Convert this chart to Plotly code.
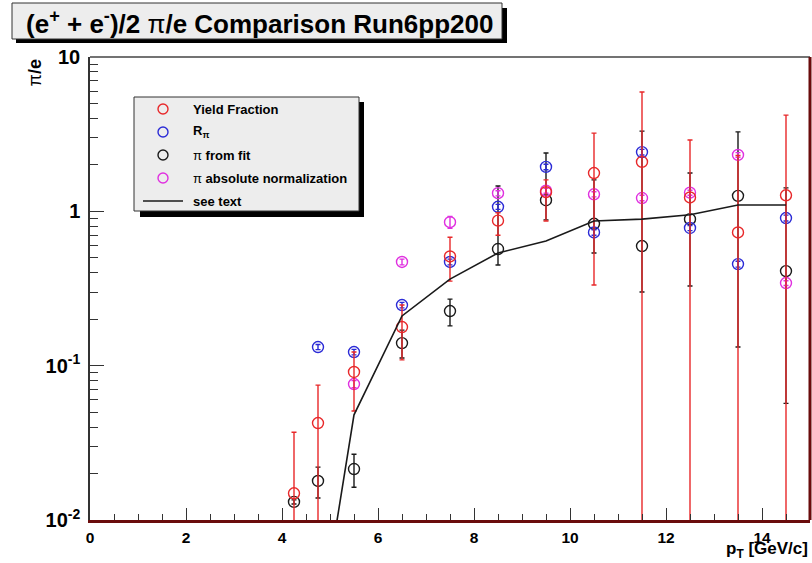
"""pi/e comparison for Run6 pp200, ROOT-style log plot."""

import plotly.graph_objects as go

# ---- data ----
pt = [4.25, 4.75, 5.5, 6.5, 7.5, 8.5, 9.5, 10.5, 11.5, 12.5, 13.5, 14.5]

# Yield Fraction (red); low of 0 means the bar runs off the bottom of the axis
yield_frac = [0.0149, 0.0425, 0.091, 0.178, 0.51, 0.87, 1.33, 1.77, 2.09, 1.23, 0.73, 1.27]
yield_hi = [0.037, 0.0748, 0.1225, 0.247, 0.68, 0.98, 1.6, 3.21, 5.93, 2.9, 2.3, 4.2]
yield_lo = [0.0, 0.0, 0.0508, 0.109, 0.353, 0.70, 0.865, 0.333, 0.0, 0.0, 0.0, 0.0]

# R_pi (blue)
pt_rpi = [4.75, 5.5, 6.5, 7.5, 8.5, 9.5, 10.5, 11.5, 12.5, 13.5, 14.5]
rpi = [0.132, 0.1225, 0.247, 0.47, 1.07, 1.94, 0.73, 2.42, 0.78, 0.455, 0.905]
rpi_err = [0.005, 0.005, 0.01, 0.02, 0.04, 0.08, 0.03, 0.1, 0.03, 0.02, 0.04]

# pi from fit (black)
fit = [0.0131, 0.0179, 0.0214, 0.140, 0.226, 0.57, 1.18, 0.83, 0.596, 0.89, 1.26, 0.41]
fit_hi = [0.0135, 0.0220, 0.0267, 0.17, 0.270, 1.46, 2.39, 1.6, 3.31, 1.77, 3.27, 1.42]
fit_lo = [0.0127, 0.0139, 0.0163, 0.112, 0.181, 0.449, 0.88, 0.537, 0.30, 0.328, 0.132, 0.057]

# pi absolute normalization (magenta)
pt_abs = [5.5, 6.5, 7.5, 8.5, 9.5, 10.5, 11.5, 12.5, 13.5, 14.5]
absnorm = [0.076, 0.47, 0.85, 1.31, 1.36, 1.29, 1.22, 1.32, 2.32, 0.343]
absnorm_err = [0.004, 0.02, 0.075, 0.05, 0.05, 0.05, 0.05, 0.05, 0.08, 0.012]

# "see text" curve (black line)
pt_line = [4.75, 5.5, 6.5, 7.5, 8.5, 9.5, 10.5, 11.5, 12.5, 13.5, 14.5]
line_vals = [0.0017, 0.048, 0.21, 0.364, 0.537, 0.643, 0.865, 0.89, 0.95, 1.10, 1.10]

RED = "#e8282a"
BLUE = "#2b2bd6"
MAGENTA = "#e030e0"
BLACK = "#1a1a1a"
FRAME_RED = "#6a0c0c"
FLOOR = 1e-3  # off-axis lower end for bars that run past the bottom
FONT = "Liberation Sans, Arial"

# plot area in pixels
W, H = 812, 563
L, R, T, B = 90, 810, 57, 520


def px(x):
    return (x - L) / (R - L)


def py(y):
    return (B - y) / (B - T)


def err_up(vals, hi):
    return [h - v for v, h in zip(vals, hi)]


def err_down(vals, lo):
    return [v - max(lo_, FLOOR) for v, lo_ in zip(vals, lo)]


fig = go.Figure()


def add_series(x, y, up, down, color):
    fig.add_trace(
        go.Scatter(
            x=x,
            y=y,
            mode="markers",
            marker={"symbol": "circle-open", "size": 11, "color": color,
                    "line": {"width": 1.4, "color": color}},
            error_y={"type": "data", "symmetric": False, "array": up,
                     "arrayminus": down, "color": color, "thickness": 1.4,
                     "width": 2.5},
            showlegend=False,
            cliponaxis=True,
        )
    )


add_series(pt, fit, err_up(fit, fit_hi), err_down(fit, fit_lo), BLACK)
add_series(pt_rpi, rpi, rpi_err, rpi_err, BLUE)
add_series(pt_abs, absnorm, absnorm_err, absnorm_err, MAGENTA)
add_series(pt, yield_frac, err_up(yield_frac, yield_hi),
           err_down(yield_frac, yield_lo), RED)

fig.add_trace(
    go.Scatter(x=pt_line, y=line_vals, mode="lines",
               line={"color": BLACK, "width": 1.6}, showlegend=False)
)

# ---- axes ----
minor_vals = [m * 10 ** e for e in (-2, -1, 0) for m in range(2, 10)]
fig.update_xaxes(
    range=[0, 15],
    tickvals=[0, 2, 4, 6, 8, 10, 12, 14],
    ticktext=[f"<b>{v}</b>" for v in [0, 2, 4, 6, 8, 10, 12, 14]],
    ticks="inside", ticklen=12, tickwidth=1.3, tickcolor="#333",
    minor={"dtick": 0.5, "ticks": "inside", "ticklen": 6, "tickwidth": 1.2,
           "tickcolor": "#333"},
    showgrid=False, zeroline=False,
    showline=True, linecolor=FRAME_RED, linewidth=2.5,
    ticklabelstandoff=2,
    tickfont={"family": FONT, "size": 15.5, "color": "black"},
)
fig.update_yaxes(
    type="log",
    range=[-2, 1],
    tickvals=[0.01, 0.1, 1, 10],
    ticktext=["<b>10<sup>-2</sup></b>", "<b>10<sup>-1</sup></b>", "<b>1</b>", "<b>10</b>"],
    ticks="inside", ticklen=14, tickwidth=1.3, tickcolor="#333",
    minor={"tickvals": minor_vals, "ticks": "inside", "ticklen": 8,
           "tickwidth": 1.2, "tickcolor": "#333"},
    showgrid=False, zeroline=False,
    showline=True, linecolor="#333", linewidth=1.5,
    ticklabelstandoff=4,
    tickfont={"family": FONT, "size": 20, "color": "black"},
)

shapes = [
    # frame top and right
    {"type": "line", "xref": "paper", "yref": "paper", "x0": 0, "x1": 1,
     "y0": 1, "y1": 1, "line": {"color": "#444", "width": 1.5}},
    {"type": "line", "xref": "paper", "yref": "paper", "x0": 1, "x1": 1,
     "y0": 0, "y1": 1, "line": {"color": FRAME_RED, "width": 3}},
    # title box with shadow
    {"type": "rect", "xref": "paper", "yref": "paper", "x0": px(16), "x1": px(507),
     "y0": py(43), "y1": py(8), "fillcolor": "black", "line": {"width": 0}},
    {"type": "rect", "xref": "paper", "yref": "paper", "x0": px(12), "x1": px(502),
     "y0": py(39), "y1": py(3), "fillcolor": "#ededed",
     "line": {"color": "#333", "width": 1}},
    # legend box with shadow
    {"type": "rect", "xref": "paper", "yref": "paper", "x0": px(140), "x1": px(364),
     "y0": py(217), "y1": py(102), "fillcolor": "black", "line": {"width": 0}},
    {"type": "rect", "xref": "paper", "yref": "paper", "x0": px(134), "x1": px(359),
     "y0": py(211), "y1": py(97), "fillcolor": "#ededed",
     "line": {"color": "#333", "width": 1}},
]

legend_rows = [
    ("circle", RED, "<b>Yield Fraction</b>", 109),
    ("circle", BLUE, "<b>R<sub>π</sub></b>", 132),
    ("circle", BLACK, "π <b>from fit</b>", 155),
    ("circle", MAGENTA, "π <b>absolute normalization</b>", 178),
    ("line", BLACK, "<b>see text</b>", 201),
]

annotations = [
    {"text": "<b>(e<sup>+</sup> + e<sup>-</sup>)/2 </b>π<b>/e Comparison Run6pp200</b>",
     "xref": "paper", "yref": "paper", "x": px(24), "y": py(22),
     "xanchor": "left", "yanchor": "middle", "showarrow": False,
     "font": {"family": FONT, "size": 26, "color": "black"}},
    {"text": "π<b>/e</b>", "textangle": -90,
     "xref": "paper", "yref": "paper", "x": px(34), "y": py(58),
     "xanchor": "center", "yanchor": "top", "showarrow": False,
     "font": {"family": FONT, "size": 18, "color": "black"}},
    {"text": "<b>p<sub>T</sub> [GeV/c]</b>",
     "xref": "paper", "yref": "paper", "x": 1, "y": py(550),
     "xanchor": "right", "yanchor": "middle", "showarrow": False,
     "font": {"family": FONT, "size": 17, "color": "black"}},
]

for kind, color, label, ypx in legend_rows:
    if kind == "circle":
        shapes.append({"type": "circle", "xref": "paper", "yref": "paper",
                       "xsizemode": "pixel", "ysizemode": "pixel",
                       "xanchor": px(163), "yanchor": py(ypx),
                       "x0": -5, "x1": 5, "y0": -5, "y1": 5,
                       "line": {"color": color, "width": 1.4}})
    else:
        shapes.append({"type": "line", "xref": "paper", "yref": "paper",
                       "x0": px(143), "x1": px(183), "y0": py(ypx), "y1": py(ypx),
                       "line": {"color": color, "width": 1.6}})
    annotations.append({"text": label, "xref": "paper", "yref": "paper",
                        "x": px(191), "y": py(ypx), "xanchor": "left",
                        "yanchor": "middle", "showarrow": False,
                        "font": {"family": FONT, "size": 13, "color": "black"}})

fig.update_layout(
    width=W,
    height=H,
    margin={"l": L, "r": W - R, "t": T, "b": H - B},
    paper_bgcolor="white",
    plot_bgcolor="white",
    showlegend=False,
    shapes=shapes,
    annotations=annotations,
)

# drop the browser's default body margin so the figure sits at the window origin
fig.write_html(
    "out.html",
    config={"displayModeBar": False},
    post_script="document.body.style.margin = '0';",
)
